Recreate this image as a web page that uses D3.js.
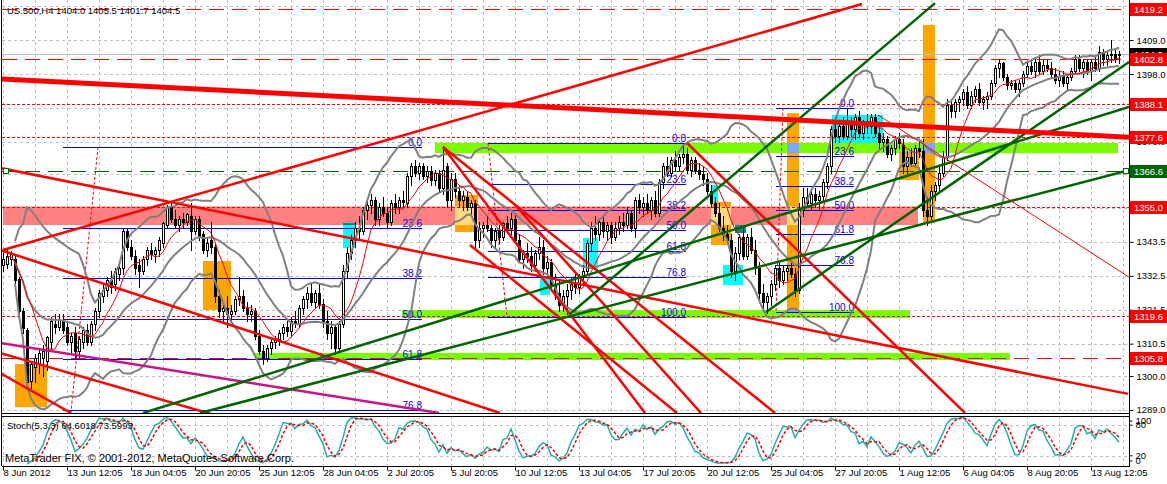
<!DOCTYPE html>
<html><head><meta charset="utf-8">
<script src="https://cdn.jsdelivr.net/npm/d3@7"></script>
<style>
body{margin:0;background:#fff;overflow:hidden}
svg{display:block}
text{font-family:"Liberation Sans",Arial,sans-serif}
</style></head>
<body><svg id="c" width="1167" height="484"></svg>
<script>
// ---------- DATA ----------
// H4 candles [open, high, low, close], US.500, 8 Jun .. 13 Aug 2012
const candles = [
[1336,1340,1334,1338],[1336.5,1341,1335,1339],[1338,1340.5,1336,1339.5],[1338,1339,1330,1331],[1331.5,1332,1320,1321],
[1321,1322,1314,1315.5],[1315,1315.5,1297,1298],[1298.5,1305,1296,1304],[1303,1307,1298,1306],[1304,1309,1301,1307.5],
[1306,1310,1300,1308],[1305,1313,1302,1312.5],[1311,1319,1308,1318],[1317,1320,1314,1316],[1316,1320,1315,1318.5],
[1318,1320,1314,1315],[1316,1318,1310,1311],[1311,1314,1307,1313],[1314,1316,1306,1308],[1308,1313,1306,1312],
[1311,1316,1309,1315],[1315,1317,1310,1311],[1311,1318,1310,1317],[1317,1322,1315,1321],[1321,1328,1319,1327],
[1326,1330,1324,1328],[1328,1332,1326,1331],[1331,1334,1327,1329],[1330,1335,1328,1334],[1333,1336,1331,1335],
[1335,1348,1333,1347],[1347,1348,1341,1342],[1342,1344,1338,1339],[1339,1341,1333,1335],[1336,1338,1329,1334],
[1334,1339,1333,1338],[1338,1342,1336,1341],[1341,1343,1338,1339.5],[1339.5,1342,1337,1341],[1341,1345,1339,1344],
[1343,1350,1342,1349.5],[1349,1355.5,1348,1355],[1355,1356,1350,1351],[1351,1354,1348,1349],[1349,1352,1347,1351],
[1351,1353,1348,1350],[1350,1353,1349,1352.5],[1352,1356,1341,1347],[1347,1352,1346,1351],[1351,1352,1344,1345.5],
[1346,1347,1340,1341],[1341,1345,1339,1343],[1344,1350,1340,1342],[1342,1343,1324,1326],[1326,1328,1319,1321],
[1321,1324,1317.5,1322],[1322,1326,1316,1320],[1320,1323,1318,1321],[1321,1326,1320,1325],[1325,1332,1323,1326],
[1326,1328,1321,1322],[1322,1324,1318,1320],[1320,1323,1318,1321],[1321,1322,1312,1313],[1313,1315,1307,1308],
[1308,1310,1304,1306],[1306,1310,1305,1309],[1309,1312,1307,1311],[1311,1313,1309,1312],[1312,1315,1310,1314],
[1314,1317,1312,1316],[1316,1318,1313,1314.5],[1314.5,1319,1313,1318],[1318,1321,1316,1317],[1317,1323,1316,1322],
[1322,1326,1320,1325],[1325,1329,1322,1327],[1327,1330,1323,1324],[1324,1328,1322,1327],[1327,1330,1322,1323.5],
[1323.5,1325,1316,1318],[1318,1321,1312,1314],[1314,1318,1309,1316],[1316,1317,1307,1309],[1309,1318,1308,1317],
[1317,1336,1316,1334],[1334,1342,1332,1340],[1340,1346,1338,1344],[1344,1350,1342,1348],[1348,1352,1344,1347],
[1347,1355,1346,1354],[1354,1357,1351,1355.5],[1355.5,1359,1353,1357],[1357,1358,1349,1351],[1351,1356,1349,1355],
[1355,1358,1352,1353],[1353,1355,1348,1350],[1350,1357,1349,1356],[1356,1359,1353,1355],[1355,1358,1353,1357],
[1357,1360,1355,1356.5],[1356,1366,1355,1365],[1365,1369,1362,1368],[1368,1370,1365,1366],[1366,1369,1364,1368],
[1368,1369,1364,1365],[1365,1368,1363,1366.5],[1366.5,1368,1362,1363.5],[1363.5,1367,1362,1366],[1366,1367,1360,1361],
[1361,1374.5,1359,1367],[1368,1369,1355,1357],[1357,1366,1354,1364],[1364,1366,1358,1360],[1360,1362,1355,1357],
[1357,1360,1354,1358.5],[1358,1360,1354,1355],[1355,1357,1352,1356],[1356,1357,1342,1344],[1344,1350,1342,1348],
[1348,1350,1345,1349],[1349,1352,1347,1348],[1348,1349,1342,1344],[1344,1348,1342,1347],[1347,1349,1343,1345],
[1345,1350,1344,1349.5],[1349.5,1352,1347,1348],[1348,1353,1346,1351],[1351,1353,1343,1344],[1344,1346,1337,1338],
[1338,1341,1335,1340],[1340,1343,1337,1339],[1339,1342,1334,1336],[1336,1341,1334,1340],[1340,1345,1338,1342],
[1342,1344,1333,1335],[1335,1339,1332,1337],[1337,1338,1328,1330],[1330,1333,1325,1327],[1327,1331,1321,1323],
[1323,1328,1321,1326],[1326,1330,1320,1328],[1328,1332,1325,1330],[1330,1333,1327,1329],[1329,1333,1327,1332],
[1332,1336,1330,1334],[1334,1344,1333,1343],[1343,1350,1341,1348],[1348,1352,1344,1346],[1346,1351,1344,1350],
[1350,1352,1345,1347],[1347,1350,1344,1349],[1349,1350,1343,1345],[1345,1350,1344,1348],[1348,1352,1346,1350],
[1350,1353,1347,1349],[1349,1355,1348,1353],[1353,1354,1347,1348],[1348,1358,1345,1357],[1357,1359,1353,1355],
[1355,1358,1352,1356],[1356,1359,1353,1354],[1354,1358,1351,1357],[1357,1360,1352,1353],[1353,1364,1352,1363],
[1363,1369,1361,1368],[1368,1371,1365,1366],[1366,1371,1365,1370],[1370,1373,1367,1368],[1368,1372,1367,1371],
[1371,1375.6,1369,1372],[1372,1374,1366,1367],[1367,1371,1365,1370],[1370,1371,1366,1367],[1367,1369,1364,1365.5],
[1365.5,1368,1362,1364],[1364,1366,1359,1360],[1360,1362,1355,1356],[1356,1358,1352,1353],[1353,1356,1347,1348],
[1348,1352,1344,1346],[1346,1349,1343,1344],[1344,1346,1332,1334],[1334,1342,1331,1340],[1340,1346,1338,1345],
[1345,1348,1338,1339],[1339,1346,1338,1345],[1345,1348,1340,1341],[1341,1344,1333,1335],[1335,1337,1325,1327],
[1327,1330,1321,1324],[1324,1327,1320.5,1326],[1326,1331,1323,1330],[1330,1336,1328,1335],[1335,1337,1329,1331],
[1331,1336,1330,1334],[1334,1336,1331,1335],[1335,1337,1332,1333],[1333,1335,1326,1328],[1328,1356,1327,1354],
[1354,1361,1352,1358],[1358,1361,1355,1356],[1356,1360,1354,1359],[1359,1361,1355,1357],[1357,1360,1354,1358.5],
[1358.5,1364,1357,1363],[1363,1369,1361,1368],[1368,1381,1366,1380],[1380,1384,1376,1378],[1378,1383,1376,1381],
[1381,1384,1377,1378],[1378,1387,1377,1382],[1382,1384,1378,1380],[1380,1385,1377,1384],[1384,1386,1378,1379],
[1379,1383,1377,1382],[1382,1385,1379,1381],[1381,1385,1379,1384],[1384,1385,1378,1379],[1379,1382,1374,1376],
[1376,1379,1373,1377],[1377,1378,1371,1372],[1372,1375,1370,1374],[1374,1378,1372,1377],[1377,1379,1374,1375.5],
[1375,1377,1366,1368],[1368,1373,1366,1371],[1371,1374,1368,1369],[1369,1375,1368,1374],[1374,1376,1371,1373],
[1373,1377,1352,1354],[1354,1358,1349,1352],[1352,1362,1351,1360],[1360,1363,1357,1362],[1362,1368,1360,1366],
[1366,1373,1365,1371],[1371,1390,1370,1388],[1388,1390,1384,1386],[1386,1390,1384,1389],[1389,1391,1386,1390],
[1390,1393,1388,1392],[1392,1394,1387,1388],[1388,1392.5,1387,1391],[1391,1394,1389,1393],[1393,1395,1388,1389],
[1389,1391,1386.5,1390],[1390,1392,1387,1391],[1391,1396,1390,1395],[1395,1401,1394,1400],[1400,1403,1397,1401.5],
[1401.5,1402,1396,1397],[1397,1398,1393,1394.5],[1394.5,1396,1393,1395],[1395,1396,1392,1393],[1393,1396,1391,1395],
[1395,1399,1394,1398],[1398,1402,1397,1400.5],[1400.5,1403,1398,1399],[1399,1403,1397,1402],[1402,1404,1398,1399],
[1399,1403,1398,1401],[1401,1403,1399,1400],[1400,1402,1397,1398],[1398,1400,1395,1396],[1396,1399,1394,1397.5],
[1397.5,1399,1394,1395],[1395,1398,1393,1397],[1397,1400,1396,1399],[1399,1404,1398,1403],[1403,1404,1399,1400],
[1400,1403,1397,1402],[1402,1403,1398,1399],[1399,1403,1396,1402],[1402,1404,1399,1400],[1400,1407,1399,1405],
[1405,1406,1401,1403],[1403,1405,1401,1404],[1404,1409,1402,1404.5],[1404.5,1406,1402,1403],[1404,1405.5,1401.7,1404.5]
];
const gridPrices = [1420.0,1409.0,1398.0,1387.0,1376.0,1365.5,1354.5,1343.5,1332.5,1321.5,1310.5,1300.0,1289.0];
const priceTicks = [1409.0,1398.0,1376.0,1365.5,1343.5,1332.5,1321.5,1310.5,1300.0,1289.0];
const timeLabels = ["8 Jun 2012","13 Jun 12:05","18 Jun 04:05","20 Jun 20:05","25 Jun 12:05","28 Jun 04:05","2 Jul 20:05","5 Jul 20:05","10 Jul 12:05","13 Jul 04:05","17 Jul 20:05","20 Jul 12:05","25 Jul 04:05","27 Jul 20:05","1 Aug 12:05","6 Aug 04:05","8 Aug 20:05","13 Aug 12:05"];
const timeTickBars = [0,16,32,48,64,80,96,112,128,144,160,176,192,208,224,240,256,272];
const stochLevels = [80,20];
const stochAxisLabels = [100,80,20,0];
// horizontal price lines and their kinds
const levelPrices = [1419.2,1402.8,1388.1,1377.6,1366.6,1355.0,1319.6,1305.8];
const levelKinds  = ["dash","dash","dot","dot","gdash","dot","dot","dash"];
const bidPrice = 1404.5;
// trend lines: [[bar, price],[bar, price]]
const redTrends = [
 [[0,1340.9],[214.75,1420.7]],
 [[-0.75,1340.9],[124.25,1288.0]],
 [[-0.75,1367.5],[281.25,1294.2]],
 [[-0.75,1307.5],[52.75,1287.4]],
 [[-0.75,1301.0],[17,1288.0]],
 [[110,1374.3],[160.5,1288.0]],
 [[110,1374.3],[193,1288.0]],
 [[116.75,1342.5],[168.5,1288.0]],
 [[128,1355.5],[174.5,1288.0]],
 [[171,1375.6],[240.5,1288.0]]
];
const redThickTrend = [[-0.75,1396.4],[281.5,1377.5]];
const redThinTrend = [[218.75,1384.7],[281.5,1332.1]];
const magentaTrend = [[-0.75,1310.7],[109,1288.0]];
const greenTrends = [
 [[35,1288.0],[281.5,1387.3]],
 [[49.25,1288.0],[281.5,1366.8]],
 [[141.75,1320.1],[233,1421.0]],
 [[190.75,1320.8],[281.5,1401.9]]
];
// rectangles: [bar0, bar1, priceTop, priceBottom]
const pinkRects   = [[0,228.75,1355.0,1349.0]];
const limeRects   = [[108,278.75,1375.6,1372.3],[99.75,226.75,1321.4,1318.8],[63,251.75,1307.5,1305.2]];
const orangeRects = [[3,11,1303.9,1289.9],[50,57,1337.3,1321.4],[113,118.75,1358.7,1346.7],[177,182,1356.5,1342.5],[196,199,1385.3,1320.8],[224,229,1372.7,1363.6],[230,233,1413.9,1349.6]];
const cyanRects   = [[85,88,1349.6,1341.5],[134.25,136.75,1332.1,1326.3],[145,148.75,1344.8,1335.4],[177,178.75,1362.0,1356.5],[180,185,1336.0,1329.5],[207.25,220,1384.7,1375.6]];
const tealRects   = [[183,185.75,1349.0,1346.4]];
// Fibonacci retracements
const fibLevels = [0,23.6,38.2,50,61.8,76.8,100];
const fibLabels = ["0.0","23.6","38.2","50.0","61.8","76.8","100.0"];
const fibStartBar = [15,121.25,193.25];
const fibEndBar   = [104.75,170.75,212.75];
const fibHigh     = [1374.3,1375.6,1387.0];
const fibLow      = [1263.0,1319.1,1320.8];
const fibBase     = [[[23.75,1374.3],[15,1263.0]],[[121.25,1375.6],[126,1319.1]],[[195,1387.0],[193.25,1320.8]]];
const headerText = "US.500,H4  1404.0 1405.5 1401.7 1404.5";
const stochText = "Stoch(5,3,3) 64.6018 73.5993";
const copyText = "MetaTrader FIX, \u00A9 2001-2012, MetaQuotes Software Corp.";

// ---------- LAYOUT ----------
const PL=2, PR=1129, MB=413, ST=416, SB=466;
const FONT = "Liberation Sans, Arial, sans-serif";
const svg = d3.select("#c");
const x = d3.scaleLinear().domain([0,279]).range([3,1119]);
const y = d3.scaleLinear().domain([1288,1422]).range([MB,0]);
const ys = d3.scaleLinear().domain([0,100]).range([SB,415]);

const defs = svg.append("defs");
defs.append("clipPath").attr("id","cm").append("rect").attr("x",PL).attr("y",0).attr("width",PR-PL).attr("height",MB);
defs.append("clipPath").attr("id","cs").append("rect").attr("x",PL).attr("y",ST).attr("width",PR-PL).attr("height",SB-ST);

svg.append("rect").attr("width",1167).attr("height",484).attr("fill","#fff");

const gm = svg.append("g").attr("clip-path","url(#cm)");
const gs = svg.append("g").attr("clip-path","url(#cs)");

// grid
const gridCol = "#c0c0c0";
for(let b=0;b<=280;b+=8){
  const gx = Math.round(x(b))+0.5;
  gm.append("line").attr("x1",gx).attr("x2",gx).attr("y1",0).attr("y2",MB).attr("stroke",gridCol).attr("stroke-dasharray","3,3");
  gs.append("line").attr("x1",gx).attr("x2",gx).attr("y1",ST).attr("y2",SB).attr("stroke",gridCol).attr("stroke-dasharray","3,3");
}
gridPrices.forEach(p=>{
  const gy = Math.round(y(p))+0.5;
  gm.append("line").attr("x1",PL).attr("x2",PR).attr("y1",gy).attr("y2",gy).attr("stroke",gridCol).attr("stroke-dasharray","3,3");
});
stochLevels.forEach(v=>{
  const gy = Math.round(ys(v))+0.5;
  gs.append("line").attr("x1",PL).attr("x2",PR).attr("y1",gy).attr("y2",gy).attr("stroke",gridCol).attr("stroke-dasharray","3,3");
});

// rectangles (MT4 XOR-like overlap)
const allRects = [];
[[pinkRects,"#FF8080"],[limeRects,"#7CFC00"],[orangeRects,"#FFA500"],[cyanRects,"#00FFFF"],[tealRects,"#0B8A8A"]].forEach(([list,col])=>{
  list.forEach(r=>allRects.push({x0:x(r[0]),x1:x(r[1]),y0:y(r[2]),y1:y(r[3]),col}));
});
allRects.forEach(r=>{
  gm.append("rect").attr("x",r.x0).attr("y",r.y0).attr("width",r.x1-r.x0).attr("height",r.y1-r.y0).attr("fill",r.col);
});
function xorCol(a,b){
  const A=d3.rgb(a),B=d3.rgb(b);
  return d3.rgb(A.r^B.r^255,A.g^B.g^255,A.b^B.b^255).formatHex();
}
for(let a=0;a<allRects.length;a++)for(let b=a+1;b<allRects.length;b++){
  const A=allRects[a],B=allRects[b];
  const ix0=Math.max(A.x0,B.x0),ix1=Math.min(A.x1,B.x1),iy0=Math.max(A.y0,B.y0),iy1=Math.min(A.y1,B.y1);
  if(ix1>ix0&&iy1>iy0&&A.col!==B.col){
    gm.append("rect").attr("x",ix0).attr("y",iy0).attr("width",ix1-ix0).attr("height",iy1-iy0).attr("fill",xorCol(A.col,B.col));
  }
}

// horizontal level lines
const levelStyle = {
  dash:{c:"#FF0000",d:"15,8"},
  dot:{c:"#FF0000",d:"3,2"},
  gdash:{c:"#006400",d:"15,8"}
};
gm.append("line").attr("x1",PL).attr("x2",PR).attr("y1",Math.round(y(bidPrice))+0.5).attr("y2",Math.round(y(bidPrice))+0.5).attr("stroke","#c0c0c0");
levelPrices.forEach((p,k)=>{
  const st = levelStyle[levelKinds[k]];
  const ly = Math.round(y(p))+0.5;
  gm.append("line").attr("x1",PL).attr("x2",PR).attr("y1",ly).attr("y2",ly).attr("stroke",st.c).attr("stroke-dasharray",st.d);
});

// Fibonacci
fibStartBar.forEach((s,k)=>{
  const rng = fibHigh[k]-fibLow[k];
  const b = fibBase[k];
  gm.append("line").attr("x1",x(b[0][0])).attr("y1",y(b[0][1])).attr("x2",x(b[1][0])).attr("y2",y(b[1][1]))
    .attr("stroke","#FF0000").attr("stroke-dasharray","3,2");
  fibLevels.forEach((lv,j)=>{
    const p = fibHigh[k]-rng*lv/100;
    const ly = Math.round(y(p))+0.5;
    if(ly > MB) return; // level below the visible price range
    gm.append("line").attr("x1",x(s)).attr("x2",x(fibEndBar[k])).attr("y1",ly).attr("y2",ly).attr("stroke","#0000FF");
    gm.append("text").attr("x",x(fibEndBar[k])).attr("y",ly-2).attr("text-anchor","end").attr("font-size",10).attr("fill","#0000FF").text(fibLabels[j]);
  });
});

// candles
const body = gm.append("g").attr("shape-rendering","crispEdges");
candles.forEach((c,i)=>{
  const [o,h,l,cl]=c;
  const cx = Math.round(x(i));
  body.append("line").attr("x1",cx+0.5).attr("x2",cx+0.5).attr("y1",Math.round(y(h))).attr("y2",Math.round(y(l))+1).attr("stroke","#000");
  const top = Math.round(y(Math.max(o,cl))), bot = Math.round(y(Math.min(o,cl)));
  if(cl>o){
    body.append("rect").attr("x",cx-0.5).attr("y",top+0.5).attr("width",2).attr("height",Math.max(1,bot-top)).attr("fill","#fff").attr("stroke","#000");
  } else {
    body.append("rect").attr("x",cx-1).attr("y",top).attr("width",3).attr("height",Math.max(1,bot-top+1)).attr("fill","#000");
  }
});

// indicators: Bollinger Bands (20,2) and SMA(8)
const closes = candles.map(c=>c[3]);
const bbU=[],bbM=[],bbL=[],ma=[];
closes.forEach((c,i)=>{
  const w = closes.slice(Math.max(0,i-19),i+1);
  const m = d3.mean(w);
  const sd = Math.sqrt(d3.mean(w.map(v=>(v-m)*(v-m))));
  bbM.push(m); bbU.push(m+2*sd); bbL.push(m-2*sd);
  ma.push(d3.mean(closes.slice(Math.max(0,i-7),i+1)));
});
const lineGen = d3.line().x((d,i)=>x(i)).y(d=>y(d)).defined((d,i)=>i>=3);
[bbU,bbM,bbL].forEach(s=>gm.append("path").attr("d",lineGen(s)).attr("fill","none").attr("stroke","#808080").attr("stroke-width",2));
gm.append("path").attr("d",d3.line().x((d,i)=>x(i)).y(d=>y(d)).defined((d,i)=>i>=1)(ma)).attr("fill","none").attr("stroke","#FF0000").attr("stroke-width",1);

// trend lines
function tl(seg,col,w){
  gm.append("line").attr("x1",x(seg[0][0])).attr("y1",y(seg[0][1])).attr("x2",x(seg[1][0])).attr("y2",y(seg[1][1]))
    .attr("stroke",col).attr("stroke-width",w);
}
tl(magentaTrend,"#C71585",2.5);
redTrends.forEach(s=>tl(s,"#FF0000",2.5));
greenTrends.forEach(s=>tl(s,"#006400",2.5));
tl(redThickTrend,"#FF0000",5);
tl(redThinTrend,"#FF0000",1);

// green line handles
[PL+1,PR-6].forEach(hx=>{
  svg.append("rect").attr("x",hx+0.5).attr("y",Math.round(y(1366.6))-2.5).attr("width",5).attr("height",5).attr("fill","#fff").attr("stroke","#006400");
});

// stochastic (5,3,3)
const LL=[],HH=[];
candles.forEach((c,i)=>{
  if(i>=4){
    const w=candles.slice(i-4,i+1);
    LL[i]=d3.min(w,d=>d[2]); HH[i]=d3.max(w,d=>d[1]);
  }
});
const K=[],Dd=[];
candles.forEach((c,i)=>{
  if(i>=6){
    let num=0,den=0;
    for(let j=i-2;j<=i;j++){num+=candles[j][3]-LL[j];den+=HH[j]-LL[j];}
    K[i]=den>0?100*num/den:50;
  }
  if(i>=8) Dd[i]=(K[i]+K[i-1]+K[i-2])/3;
});
const sLine=(arr,start)=>d3.line().x((d,i)=>x(i)).y(d=>ys(d)).defined((d,i)=>i>=start&&d!==undefined)(arr);
gs.append("path").attr("d",sLine(K,6)).attr("fill","none").attr("stroke","#20B2AA").attr("stroke-width",1.5);
gs.append("path").attr("d",sLine(Dd,8)).attr("fill","none").attr("stroke","#FF0000").attr("stroke-width",1.5).attr("stroke-dasharray","3,2");

// texts inside panels
svg.append("text").attr("x",7).attr("y",14).attr("font-size",9.5).attr("fill","#000").text(headerText);
svg.append("text").attr("x",7).attr("y",429).attr("font-size",9.5).attr("fill","#000").text(stochText);
svg.append("text").attr("x",5).attr("y",462).attr("font-size",11).attr("fill","#000").text(copyText);

// borders
const bc="#000";
svg.append("line").attr("x1",1.5).attr("x2",1.5).attr("y1",0).attr("y2",SB).attr("stroke",bc);
svg.append("line").attr("x1",PL).attr("x2",PR).attr("y1",MB+0.5).attr("y2",MB+0.5).attr("stroke",bc);
svg.append("line").attr("x1",PL).attr("x2",PR).attr("y1",ST+0.5).attr("y2",ST+0.5).attr("stroke",bc);
svg.append("line").attr("x1",PL).attr("x2",PR).attr("y1",SB+0.5).attr("y2",SB+0.5).attr("stroke",bc);
svg.append("line").attr("x1",PR+0.5).attr("x2",PR+0.5).attr("y1",0).attr("y2",SB+1).attr("stroke",bc);

// price axis
const ax = svg.append("g").attr("transform",`translate(${PR+0.5},0)`)
  .call(d3.axisRight(y).tickValues(priceTicks).tickFormat(d3.format(".1f")).tickSize(4).tickSizeOuter(0).tickPadding(3));
ax.select(".domain").remove();
ax.selectAll("text").attr("font-size",9.5).attr("font-family",FONT).attr("fill","#000");
ax.selectAll("line").attr("stroke","#000");

// stochastic axis labels
const sax = svg.append("g").attr("transform",`translate(${PR+0.5},0)`)
  .call(d3.axisRight(ys).tickValues(stochAxisLabels).tickFormat(d3.format("d")).tickSize(3).tickSizeOuter(0).tickPadding(3));
sax.select(".domain").remove();
sax.selectAll("text").attr("font-size",9.5).attr("font-family",FONT).attr("fill","#000");
sax.selectAll(".tick").attr("transform",d=>`translate(0,${Math.min(Math.max(ys(d),421),461)})`);

// colored price labels
function priceTag(p,bg){
  const ty = y(p);
  svg.append("rect").attr("x",PR+1).attr("y",Math.round(ty)-6).attr("width",1167-PR-1).attr("height",13).attr("fill",bg);
  svg.append("text").attr("x",PR+5).attr("y",Math.round(ty)+4).attr("font-size",9.5).attr("fill","#fff").text(d3.format(".1f")(p));
}
priceTag(bidPrice,"#000");
levelPrices.forEach((p,k)=>priceTag(p, levelKinds[k]==="gdash" ? "#006400" : "#FF0000"));

// time axis
const tx = svg.append("g").attr("transform",`translate(0,${SB+0.5})`)
  .call(d3.axisBottom(x).tickValues(timeTickBars).tickFormat((d,k)=>timeLabels[k]).tickSize(4).tickSizeOuter(0).tickPadding(2));
tx.select(".domain").remove();
tx.selectAll("line").attr("stroke","#000");
tx.selectAll("text").attr("text-anchor","start").attr("x",0).attr("y",3).attr("font-size",9.5).attr("font-family",FONT).attr("fill","#000");
</script>
</body></html>
